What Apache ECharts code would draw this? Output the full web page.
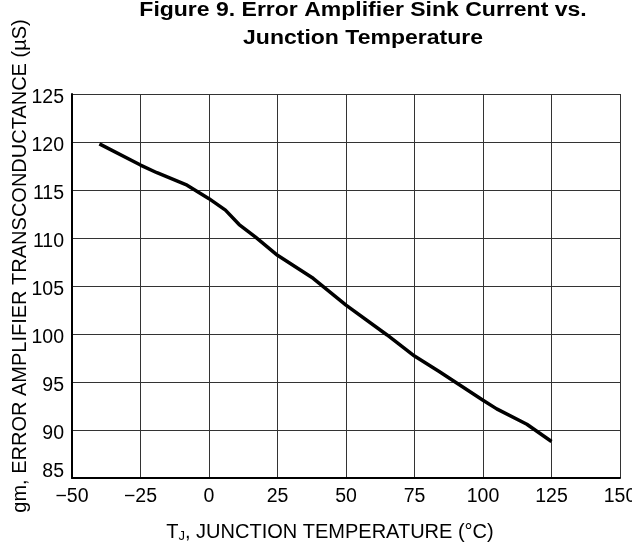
<!DOCTYPE html>
<html>
<head>
<meta charset="utf-8">
<script src="https://cdn.jsdelivr.net/npm/echarts@6/dist/echarts.min.js"></script>
<style>
html,body{margin:0;padding:0;background:#fff;}
#c{width:632px;height:548px;}
</style>
</head>
<body>
<div id="c"></div>
<script>
const temperatureC = [-40, -25, -19, -8, 0, 6, 11, 17, 25, 38, 50, 65, 75, 84, 100, 105, 116, 125];
const transconductance = [119.8, 117.6, 116.8, 115.5, 114.1, 112.9, 111.4, 110.1, 108.2, 105.8, 103.0, 99.9, 97.7, 96.1, 93.1, 92.2, 90.6, 88.8];
const titleLines = ['Figure 9. Error Amplifier Sink Current vs.', 'Junction Temperature'];
const yTitle = 'gm, ERROR AMPLIFIER TRANSCONDUCTANCE (\u00b5S)';

const FONT = '"Liberation Sans", Arial, sans-serif';
const chart = echarts.init(document.getElementById('c'), null, {renderer: 'canvas'});
const lineData = temperatureC.map((t, i) => [t, transconductance[i]]);

chart.setOption({
  animation: false,
  backgroundColor: '#fff',
  grid: {left: 72, right: 12, top: 94, bottom: 70, containLabel: false, outerBoundsMode: 'none'},
  xAxis: {
    type: 'value', min: -50, max: 150, interval: 25,
    axisLine: {show: true, onZero: false, lineStyle: {color: '#000', width: 2}},
    axisTick: {show: false},
    splitLine: {show: true, lineStyle: {color: '#333', width: 1}},
    axisLabel: {color: '#000', fontFamily: FONT, fontSize: 19.5, margin: 9,
      formatter: v => String(v).replace('-', '\u2212')}
  },
  yAxis: {
    type: 'value', min: 85, max: 125, interval: 5,
    axisLine: {show: true, onZero: false, lineStyle: {color: '#000', width: 2}},
    axisTick: {show: false},
    splitLine: {show: true, lineStyle: {color: '#333', width: 1}},
    axisLabel: {color: '#000', fontFamily: FONT, fontSize: 19.5, margin: 8,
      formatter: v => v === 85 ? '{lo|' + v + '}' : '{n|' + v + '}',
      rich: {
        n: {fontFamily: FONT, fontSize: 19.5, color: '#000', padding: [7, 0, 0, 0]},
        lo: {fontFamily: FONT, fontSize: 19.5, color: '#000', padding: [0, 0, 12, 0]}
      }}
  },
  series: [{
    type: 'line', data: lineData, showSymbol: false, smooth: false,
    lineStyle: {color: '#000', width: 3.5}
  }],
  graphic: [
    {type: 'text', x: 363, y: -4, scaleX: 1.15, style: {
      text: titleLines.join('\n'), font: 'bold 20px ' + FONT, fill: '#000',
      align: 'center', verticalAlign: 'top', lineHeight: 28}},
    {type: 'text', x: 20, y: 266, rotation: Math.PI / 2, style: {
      text: yTitle, font: '20px ' + FONT, fill: '#000',
      align: 'center', verticalAlign: 'middle'}},
    {type: 'text', x: 330, y: 532, style: {
      text: '{m|T}{s|J}{m|, JUNCTION TEMPERATURE (\u00b0C)}',
      align: 'center', verticalAlign: 'middle',
      rich: {
        m: {fontFamily: FONT, fontSize: 20, fill: '#000'},
        s: {fontFamily: FONT, fontSize: 13, fill: '#000', padding: [9, 0, 0, 0]}
      }}}
  ]
});
</script>
</body>
</html>
